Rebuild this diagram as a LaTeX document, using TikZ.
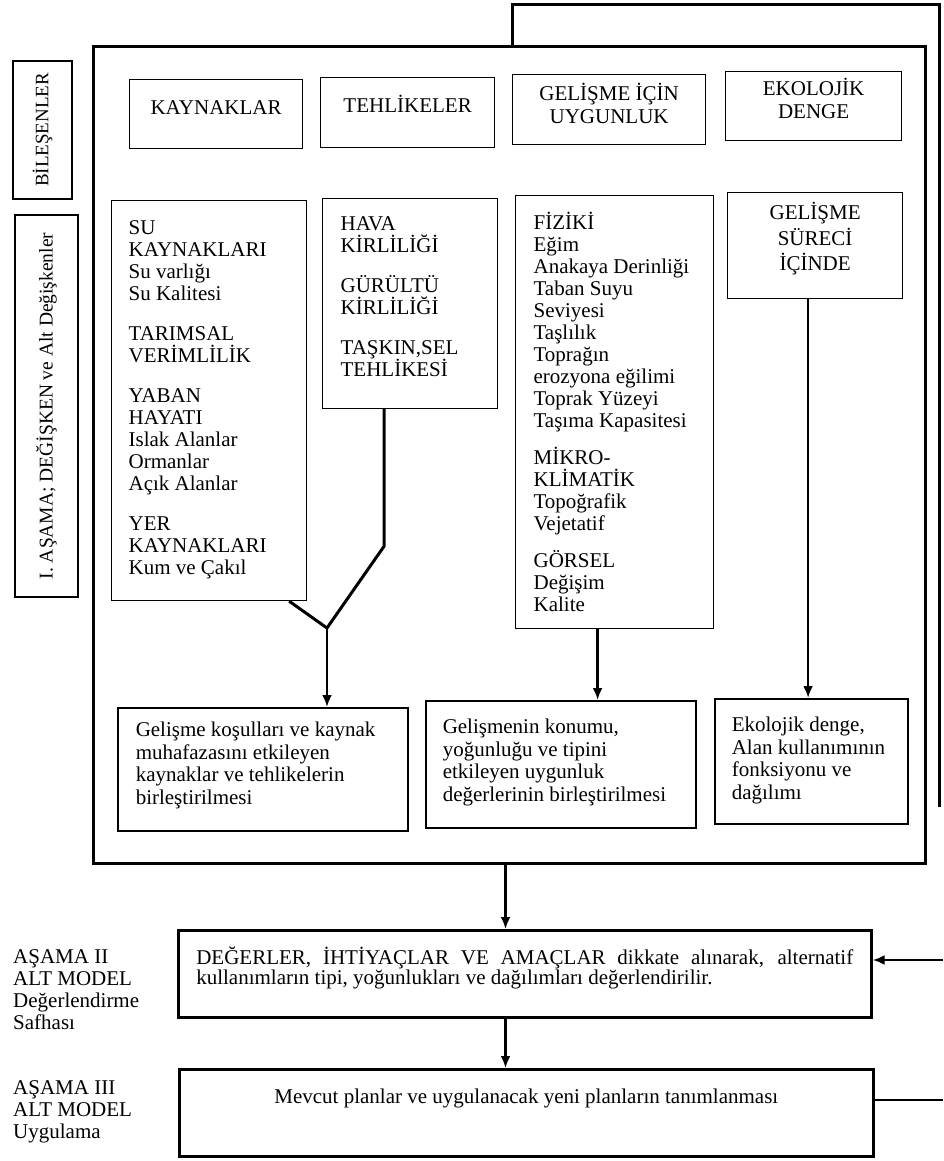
\documentclass[tikz,border=0pt]{standalone}
\usepackage{fontspec}
\setmainfont{Liberation Serif}
\usetikzlibrary{arrows.meta}
\newcommand\tbx[5]{\parbox[c][#2pt][t]{#1pt}{#5\vspace*{#3pt}\rule{0pt}{18pt}#4}}
\begin{document}
\begin{tikzpicture}[x=1pt,y=-1pt,font=\fontsize{21}{22}\selectfont,
  bx/.style={draw,line width=1.2pt,inner sep=0pt,anchor=north west},
  bbx/.style={draw,line width=1.5pt,inner sep=0pt,anchor=north west},
  sbx/.style={draw,line width=2.6pt,inner sep=0pt,anchor=north west},
  thk/.style={line width=3pt},
  arr/.style={line width=2.6pt,-{Latex[length=12pt,width=10pt]}},
  lbl/.style={inner sep=0pt,anchor=north west},
  rbx/.style={draw,line width=1.2pt,rotate=90,inner sep=0pt}]
\useasboundingbox (0,0) rectangle (943,1161);

% main frame
\node[draw,line width=3pt,inner sep=0pt,minimum width=832pt,minimum height=817pt,anchor=north west] (frame) at (92,45) {};
\coordinate (rt) at (939,807);
\draw[thk] ([xshift=420pt]frame.north west) -- ++(0,-40) -| (rt);

% side labels
\node[rbx,minimum width=138pt,minimum height=59pt,font=\fontsize{19}{20}\selectfont] (bil) at (42.5,130) {BİLEŞENLER};
\node[rbx,minimum width=382pt,minimum height=63pt,font=\fontsize{19.5}{20}\selectfont] (asama) at (46.5,406) {I. AŞAMA; DEĞİŞKEN ve Alt Değişkenler};

% top row
\node[bx] (kay) at (129,79) {\tbx{173}{69}{17}{KAYNAKLAR}{\centering}};
\node[bx] (teh) at (320,77) {\tbx{174}{70}{17}{TEHLİKELER}{\centering}};
\node[bx] (gel) at (512,74) {\tbx{193}{70}{8}{GELİŞME İÇİN\\[1pt]UYGUNLUK}{\centering}};
\node[bx] (eko) at (725,71) {\tbx{176}{69}{6}{EKOLOJİK\\[1pt]DENGE}{\centering}};

% middle row
\node[bx] (su) at (111,200) {\tbx{195}{400}{16}{SU\\KAYNAKLARI\\Su varlığı\\Su Kalitesi\\[18pt]TARIMSAL\\VERİMLİLİK\\[18pt]YABAN\\HAYATI\\Islak Alanlar\\Ormanlar\\Açık Alanlar\\[18pt]YER\\KAYNAKLARI\\Kum ve Çakıl}{\raggedright\leftskip=17pt}};
\node[bx] (hava) at (322,198) {\tbx{175}{210}{14}{HAVA\\KİRLİLİĞİ\\[18pt]GÜRÜLTÜ\\KİRLİLİĞİ\\[18pt]TAŞKIN,SEL\\TEHLİKESİ}{\raggedright\leftskip=18pt}};
\node[bx] (fz) at (515,195) {\tbx{198}{433}{16}{FİZİKİ\\Eğim\\Anakaya Derinliği\\Taban Suyu\\Seviyesi\\Taşlılık\\Toprağın\\erozyona eğilimi\\Toprak Yüzeyi\\Taşıma Kapasitesi\\[15pt]MİKRO-\\KLİMATİK\\Topoğrafik\\Vejetatif\\[15pt]GÖRSEL\\Değişim\\Kalite}{\raggedright\leftskip=18pt}};
\node[bx] (sur) at (727,192) {\tbx{175}{106}{9}{GELİŞME\\[3.5pt]SÜRECİ\\[3.5pt]İÇİNDE}{\centering}};

% bottom row
\node[bbx] (b1) at (117,707) {\tbx{290}{123}{11}{Gelişme koşulları ve kaynak\\[0.5pt]muhafazasını etkileyen\\[0.5pt]kaynaklar ve tehlikelerin\\[0.5pt]birleştirilmesi}{\raggedright\leftskip=18pt}};
\node[bbx] (b2) at (425,700) {\tbx{270}{127}{15}{Gelişmenin konumu,\\[0.5pt]yoğunluğu ve tipini\\[0.5pt]etkileyen uygunluk\\[0.5pt]değerlerinin birleştirilmesi}{\raggedright\leftskip=17pt}};
\node[bbx] (b3) at (714,698) {\tbx{193}{125}{15}{Ekolojik denge,\\[0.5pt]Alan kullanımının\\[0.5pt]fonksiyonu ve\\[0.5pt]dağılımı}{\raggedright\leftskip=17pt}};

% connectors inside frame
\coordinate (jn) at (327,628);
\draw[thk] ([xshift=-18pt]su.south east) -- (jn);
\draw[thk] ([xshift=-26pt]hava.south) -- ++(0,137) -- (jn);
\draw[arr] (jn) -- (jn |- b1.north);
\coordinate (a2) at ([xshift=-17pt]fz.south);
\draw[arr] (a2) -- (a2 |- b2.north);
\coordinate (a3) at ([xshift=-7pt]sur.south);
\draw[arr] (a3) -- (a3 |- b3.north);

% stages II and III
\node[sbx] (bII) at (177,929) {\tbx{693}{87}{16}{\makebox[657pt][s]{DEĞERLER, İHTİYAÇLAR VE AMAÇLAR dikkate alınarak, alternatif}\\[-2pt]kullanımların tipi, yoğunlukları ve dağılımları değerlendirilir.}{\raggedright\leftskip=18pt}};
\node[sbx] (bIII) at (178,1068) {\tbx{694}{87}{16}{Mevcut planlar ve uygulanacak yeni planların tanımlanması}{\centering}};

\node[lbl] (l2) at (13,945) {\parbox[t]{160pt}{\raggedright\rule{0pt}{18pt}AŞAMA II\\ALT MODEL\\Değerlendirme\\Safhası}};
\node[lbl] (l3) at (13,1076) {\parbox[t]{160pt}{\raggedright\rule{0pt}{18pt}AŞAMA III\\ALT MODEL\\Uygulama}};

\coordinate (s1) at ([xshift=-4pt]frame.south);
\draw[arr] (s1) -- (s1 |- bII.north);
\draw[arr] (s1 |- bII.south) -- (s1 |- bIII.north);
\coordinate (fin) at (943,960);
\draw[arr] (fin) -- (fin -| bII.east);
\coordinate (fout) at (943,1100);
\draw[line width=2.4pt] (fout -| bIII.east) -- (fout);
\end{tikzpicture}
\end{document}
